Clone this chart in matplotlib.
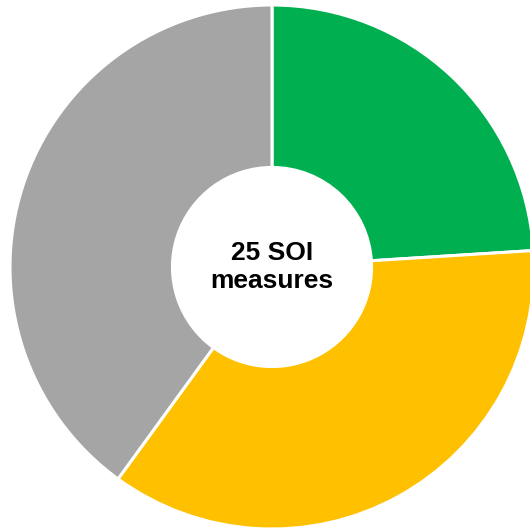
import matplotlib
matplotlib.use("Agg")
import matplotlib.pyplot as plt

# datos del grafico
labels = ["Green", "Yellow", "Gray"]
values = [6, 9, 10]
colors = ["#00B050", "#FFC000", "#A5A5A5"]
center_text = "25 SOI\nmeasures"

W, H = 530, 532
fig = plt.figure(figsize=(W / 100, H / 100), dpi=100)

# centro del anillo y radio en pixeles
cx, cy, r = 272, 267, 262
ax = fig.add_axes([(cx - r) / W, (H - cy - r) / H, 2 * r / W, 2 * r / H])

ax.pie(values, colors=colors, startangle=90, counterclock=False,
       radius=1.0, wedgeprops=dict(width=0.62, edgecolor="white", linewidth=2.2))
ax.set_xlim(-1, 1)
ax.set_ylim(-1, 1)
ax.set_aspect("equal")
ax.axis("off")

ax.text(0, 0.0, center_text, ha="center", va="center", fontsize=19,
        fontweight="bold", family=["Liberation Sans", "DejaVu Sans"],
        linespacing=1.2, color="black")

fig.savefig("out.png", dpi=100)
